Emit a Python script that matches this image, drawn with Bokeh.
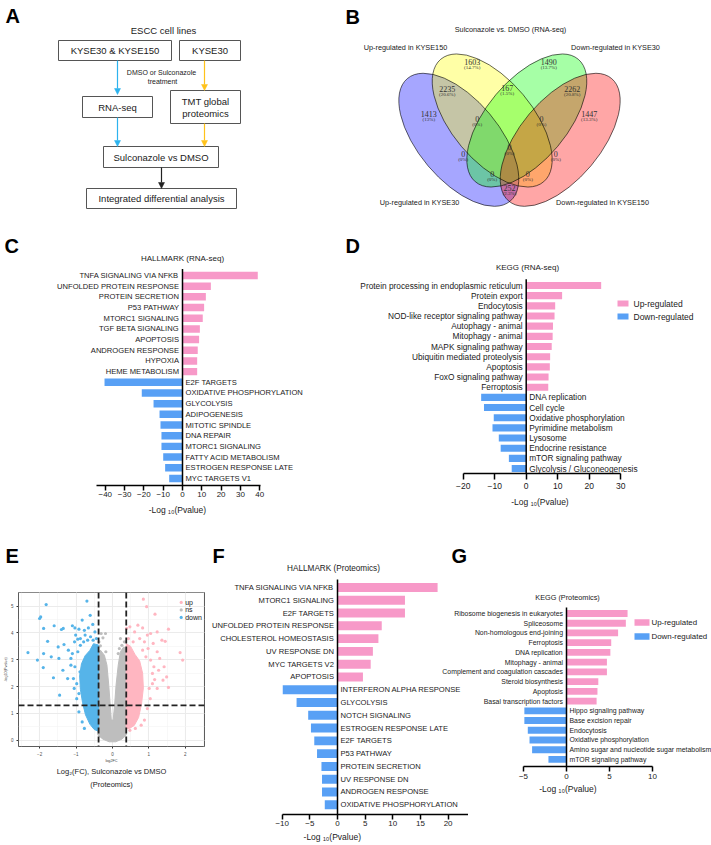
import math
from bokeh.plotting import figure
from bokeh.models import (Range1d, LinearAxis, FixedTicker, SingleIntervalTicker, Span,
                          Arrow, NormalHead)
from bokeh.layouts import row, column
from bokeh.embed import file_html
from bokeh.resources import INLINE
from bokeh.core.properties import value

SANS = "Liberation Sans"
SERIF = "Liberation Serif"
PINK = "#F799C8"
BLUE = "#58A0F5"
TXT = "#1A1A1A"
NB = "\u00a0"

# ---------------- Panel A : workflow ----------------
a_box_left = [58, 179, 82, 170, 103, 86]
a_box_right = [171, 240, 152, 240, 218, 236]
a_box_top = [40, 40, 96, 90, 146, 188]
a_box_bottom = [60, 60, 117, 123, 167, 208]
a_text = ["KYSE30 & KYSE150", "KYSE30", "RNA-seq", "TMT global", "proteomics",
          "Sulconazole vs DMSO", "Integrated differential analysis"]
a_text_x = [114.5, 209.5, 117, 205, 205, 160.5, 161]
a_text_y = [50, 50, 106.5, 101, 112.5, 156.5, 198]
a_note = ["ESCC cell lines", "DMSO or Sulconazole", "treatment"]
a_note_x = [163, 161, 162]
a_note_y = [30, 72, 81]
a_note_size = ["9.5px", "7px", "7px"]
a_arrow_x = [117, 117, 204, 204, 161]
a_arrow_y0 = [60, 117, 60, 123, 167]
a_arrow_y1 = [94, 146, 90, 146, 188]
a_arrow_color = ["#2DB3EE", "#2DB3EE", "#FFC21A", "#FFC21A", "#222222"]

# ---------------- Panel B : Venn ----------------
venn_sets = ["Up-regulated in KYSE30", "Up-regulated in KYSE150",
             "Down-regulated in KYSE30", "Down-regulated in KYSE150"]
venn_cx = [458.3, 491.7, 526.3, 559.7]
venn_cy = [139.3, 120.0, 120.0, 139.3]
venn_angle = [-50, -50, 50, 50]
venn_fill = ["#0000FF", "#FFFF00", "#00FF00", "#FF0000"]
venn_set_x = [419, 405, 615, 602]
venn_set_y = [202, 47, 47, 202]
venn_counts = ["1603", "1490", "2235", "167", "2262", "1413", "1447",
               "0", "0", "0", "0", "0", "0", "0", "252"]
venn_pcts = ["(14.7%)", "(13.7%)", "(20.6%)", "(1.5%)", "(20.8%)", "(13%)", "(13.3%)",
             "(0%)", "(0%)", "(0%)", "(0%)", "(0%)", "(0%)", "(0%)", "(2.3%)"]
venn_lx = [471.7, 548.3, 446.7, 506.7, 571.7, 428.3, 588.7,
           476.7, 541, 509, 462.7, 555.3, 491.7, 527.3, 509]
venn_ly = [61, 61, 88.3, 87.3, 88.3, 113.3, 113.3,
           118.3, 118.3, 146.7, 153.3, 153.3, 173.3, 173.3, 187.3]

# ---------------- Panel C : HALLMARK (RNA-seq) ----------------
c_up_labels = ["TNFA SIGNALING VIA NFKB", "UNFOLDED PROTEIN RESPONSE", "PROTEIN SECRETION",
               "P53 PATHWAY", "MTORC1 SIGNALING", "TGF BETA SIGNALING", "APOPTOSIS",
               "ANDROGEN RESPONSE", "HYPOXIA", "HEME METABOLISM"]
c_up_values = [39.0, 14.7, 12.1, 11.2, 10.5, 9.0, 8.6, 7.9, 7.6, 7.6]
c_down_labels = ["E2F TARGETS", "OXIDATIVE PHOSPHORYLATION", "GLYCOLYSIS", "ADIPOGENESIS",
                 "MITOTIC SPINDLE", "DNA REPAIR", "MTORC1 SIGNALING", "FATTY ACID METABOLISM",
                 "ESTROGEN RESPONSE LATE", "MYC TARGETS V1"]
c_down_values = [-40.4, -21.1, -15.0, -11.9, -11.4, -10.9, -10.9, -10.0, -9.0, -6.9]
c_ticks = [-40, -30, -20, -10, 0, 10, 20, 30, 40]

# ---------------- Panel D : KEGG (RNA-seq) ----------------
d_up_labels = ["Protein processing in endoplasmic reticulum", "Protein export", "Endocytosis",
               "NOD-like receptor signaling pathway", "Autophagy - animal", "Mitophagy - animal",
               "MAPK signaling pathway", "Ubiquitin mediated proteolysis", "Apoptosis",
               "FoxO signaling pathway", "Ferroptosis"]
d_up_values = [23.8, 11.4, 9.2, 9.0, 8.5, 8.4, 8.1, 7.6, 7.5, 7.1, 7.0]
d_down_labels = ["DNA replication", "Cell cycle", "Oxidative phosphorylation",
                 "Pyrimidine metabolism", "Lysosome", "Endocrine resistance",
                 "mTOR signaling pathway", "Glycolysis / Gluconeogenesis"]
d_down_values = [-14.3, -13.4, -10.3, -10.7, -8.7, -8.1, -5.5, -4.6]
d_ticks = [-20, -10, 0, 10, 20, 30]

# ---------------- Panel E : volcano (proteomics) ----------------
e_grey_patch_x = [-0.40, -0.33, -0.22, -0.15, -0.10, -0.06, -0.03, 0.02, 0.06, 0.10, 0.16,
                  0.22, 0.31, 0.38, 0.38, 0.26, 0.09, -0.09, -0.26, -0.40]
e_grey_patch_y = [3.23, 3.36, 3.17, 2.80, 2.05, 1.31, 0.75, 0.75, 1.31, 2.05, 2.80,
                  3.30, 3.48, 3.42, 0.19, 0.04, -0.06, -0.06, 0.04, 0.19]
e_blue_patch_x = [-0.38, -0.52, -0.62, -0.75, -0.85, -0.90, -0.88, -0.82, -0.74, -0.62, -0.50, -0.38]
e_blue_patch_y = [3.55, 3.60, 3.35, 3.15, 2.85, 2.40, 1.90, 1.40, 0.95, 0.60, 0.40, 0.33]
e_pink_patch_x = [0.38, 0.50, 0.62, 0.75, 0.83, 0.85, 0.80, 0.72, 0.60, 0.48, 0.38]
e_pink_patch_y = [3.60, 3.50, 3.20, 2.95, 2.50, 1.95, 1.35, 0.85, 0.55, 0.45, 0.42]
e_down_x = [-1.82, -0.70, -1.97, -2.00, -1.89, -1.60, -1.40, -1.35, -1.10, -1.03, -0.83, -0.61,
            -0.92, -0.77, -0.66, -0.54, -1.78, -1.49, -1.33, -1.21, -1.68, -1.89, -2.32, -2.06,
            -1.90, -1.47, -1.36, -1.62, -1.23, -1.45, -1.01, -0.95, -1.04, -0.88, -0.75, -0.60,
            -0.48, -0.53, -0.79, -1.10, -1.14, -1.07, -1.05, -0.98, -0.92, -0.83, -0.77, -0.89,
            -0.95, -0.88, -0.68, -0.44, -1.14, -1.03, -0.98, -0.92]
e_down_y = [5.06, 5.19, 4.60, 4.54, 4.17, 4.27, 4.13, 4.17, 4.27, 4.19, 4.48, 4.66,
            4.14, 4.10, 4.19, 4.32, 3.69, 3.48, 3.57, 3.36, 3.11, 3.23, 3.27, 2.99,
            2.71, 3.05, 2.61, 2.33, 2.30, 1.68, 3.92, 3.77, 3.67, 3.79, 3.92, 3.86,
            4.04, 3.73, 3.67, 3.23, 2.80, 2.30, 1.93, 1.55, 1.06, 0.68, 0.44, 2.55,
            3.30, 3.54, 3.73, 3.79, 3.05, 2.74, 2.11, 1.74]
e_up_x = [0.85, 0.94, 1.17, 1.54, 1.05, 1.23, 1.36, 1.45, 0.70, 0.83, 0.96, 1.86, 1.93, 1.30,
          1.49, 1.54, 1.39, 1.16, 1.10, 1.42, 0.39, 0.48, 0.61, 0.75, 0.88, 1.12, 0.98, 1.23,
          1.05, 1.14, 1.01, 1.04, 0.96, 0.88, 0.79, 0.63, 0.48, 1.23, 1.10, 1.27, 0.92, 0.83,
          0.57, 0.44]
e_up_y = [5.26, 4.98, 4.70, 4.14, 3.98, 4.04, 3.73, 3.69, 4.29, 4.19, 3.92, 3.27, 2.99, 3.05,
          2.36, 1.97, 2.24, 2.26, 2.49, 2.74, 4.17, 4.23, 4.04, 3.79, 3.67, 3.61, 3.42, 3.30,
          2.99, 2.74, 1.93, 1.55, 1.18, 0.75, 0.56, 0.44, 0.37, 1.93, 2.11, 2.61, 3.11, 3.36,
          3.67, 3.79]
e_ns_x = [-0.31, -0.19, -0.26, 0.22, 0.26, -0.37, -0.33, 0.19, 0.33, -0.18, 0.16]
e_ns_y = [3.98, 3.98, 3.82, 3.79, 3.54, 3.67, 3.52, 3.42, 3.67, 3.30, 3.23]
e_fc_cut = [-0.38, 0.38]
e_p_cut = 1.30
e_leg = ["up", "ns", "down"]
e_leg_col = ["#FFB6C1", "#BEBEBE", "#56B4E9"]
e_leg_y = [5.14, 4.86, 4.58]

# ---------------- Panel F : HALLMARK (Proteomics) ----------------
f_up_labels = ["TNFA SIGNALING VIA NFKB", "MTORC1 SIGNALING", "E2F TARGETS",
               "UNFOLDED PROTEIN RESPONSE", "CHOLESTEROL HOMEOSTASIS", "UV RESPONSE DN",
               "MYC TARGETS V2", "APOPTOSIS"]
f_up_values = [18.1, 12.2, 12.2, 8.0, 7.4, 6.4, 6.0, 4.6]
f_down_labels = ["INTERFERON ALPHA RESPONSE", "GLYCOLYSIS", "NOTCH SIGNALING",
                 "ESTROGEN RESPONSE LATE", "E2F TARGETS", "P53 PATHWAY", "PROTEIN SECRETION",
                 "UV RESPONSE DN", "ANDROGEN RESPONSE", "OXIDATIVE PHOSPHORYLATION"]
f_down_values = [-9.9, -7.4, -5.3, -4.8, -4.2, -3.7, -2.9, -2.8, -2.8, -2.3]
f_ticks = [-10, -5, 0, 5, 10, 15, 20]

# ---------------- Panel G : KEGG (Proteomics) ----------------
g_up_labels = ["Ribosome biogenesis in eukaryotes", "Spliceosome", "Non-homologous end-joining",
               "Ferroptosis", "DNA replication", "Mitophagy - animal",
               "Complement and coagulation cascades", "Steroid biosynthesis", "Apoptosis",
               "Basal transcription factors"]
g_up_values = [7.1, 6.9, 6.0, 5.2, 5.1, 4.7, 4.7, 3.7, 3.6, 3.5]
g_down_labels = ["Hippo signaling pathway", "Base excision repair", "Endocytosis",
                 "Oxidative phosphorylation", "Amino sugar and nucleotide sugar metabolism",
                 "mTOR signaling pathway"]
g_down_values = [-4.9, -4.9, -4.5, -4.3, -4.0, -2.1]
g_ticks = [-5, 0, 5, 10]

legend_labels = ["Up-regulated", "Down-regulated"]
XLABEL = "-Log \u2081\u2080(Pvalue)"


def no_align(p):
    try:
        p.frame_align = False
    except Exception:
        pass


def blank_fig(w, h, x0, y0):
    p = figure(width=w, height=h, x_range=Range1d(x0, x0 + w), y_range=Range1d(y0 + h, y0),
               output_backend="svg", toolbar_location=None, x_axis_location=None,
               y_axis_location=None, min_border=0)
    p.grid.visible = False
    p.outline_line_color = None
    p.background_fill_color = None
    p.border_fill_color = None
    no_align(p)
    return p


# ---- A ----
pa = blank_fig(342, 232, 0, 0)
pa.quad(left=a_box_left, right=a_box_right, top=a_box_top, bottom=a_box_bottom,
        fill_color="white", line_color="#555555", line_width=1)
for i in range(len(a_arrow_x)):
    c = a_arrow_color[i]
    pa.add_layout(Arrow(end=NormalHead(size=6, fill_color=c, line_color=c, line_width=0.5),
                        x_start=a_arrow_x[i], y_start=a_arrow_y0[i], x_end=a_arrow_x[i],
                        y_end=a_arrow_y1[i], line_color=c, line_width=1.2))
pa.text(x=a_text_x, y=a_text_y, text=a_text, text_font=value(SANS), text_font_size="9.5px",
        text_align="center", text_baseline="middle", text_color=TXT)
pa.text(x=a_note_x, y=a_note_y, text=a_note, text_font=value(SANS), text_font_size=a_note_size,
        text_align="center", text_baseline="middle", text_color=TXT)
pa.text(x=[5], y=[4], text=["A"], text_font=value(SANS), text_font_size="20px",
        text_font_style="bold", text_baseline="top", text_color="black")

# ---- B ----
pb = blank_fig(369, 232, 342, 0)
ang = [math.radians(a) for a in venn_angle]
pb.ellipse(x=venn_cx, y=venn_cy, width=160, height=80.6, angle=ang, fill_color=venn_fill,
           fill_alpha=0.35, line_color=None)
pb.ellipse(x=venn_cx, y=venn_cy, width=160, height=80.6, angle=ang, fill_color=None,
           line_color="black", line_width=0.6)
pb.text(x=venn_lx, y=venn_ly, text=venn_counts, text_font=value(SERIF), text_font_size="8px",
        text_align="center", text_baseline="middle", text_color="#333333")
pb.text(x=venn_lx, y=[v + 5.8 for v in venn_ly], text=venn_pcts, text_font=value(SERIF),
        text_font_size="5px", text_align="center", text_baseline="middle", text_color="#333333")
pb.text(x=venn_set_x, y=venn_set_y, text=venn_sets, text_font=value(SANS), text_font_size="7.3px",
        text_align="center", text_baseline="middle", text_color=TXT)
pb.text(x=[510], y=[29], text=["Sulconazole vs. DMSO (RNA-seq)"], text_font=value(SANS),
        text_font_size="7.3px", text_align="center", text_baseline="middle", text_color=TXT)
pb.text(x=[345], y=[5], text=["B"], text_font=value(SANS), text_font_size="20px",
        text_font_style="bold", text_baseline="top", text_color="black")


def bar_panel(cfg, up_lab, up_val, dn_lab, dn_val, ticks):
    W, H = cfg["w"], cfg["h"]
    z, ppu, r0, rh, axp = cfg["zero"], cfg["ppu"], cfg["row0"], cfg["rowh"], cfg["axis"]
    X = lambda fx: (fx - z) / ppu
    Y = lambda fy: (fy - r0) / rh
    p = figure(width=W, height=H, x_range=Range1d(X(0), X(W)), y_range=Range1d(Y(axp), Y(0)),
               output_backend="svg", toolbar_location=None, x_axis_location=None,
               y_axis_location=None, min_border_left=0, min_border_right=0, min_border_top=0,
               min_border_bottom=H - axp)
    p.grid.visible = False
    p.outline_line_color = None
    p.background_fill_color = None
    p.border_fill_color = None
    no_align(p)
    nu = len(up_lab)
    up_idx = list(range(nu))
    dn_idx = list(range(nu, nu + len(dn_lab)))
    p.hbar(y=up_idx, left=0, right=up_val, height=0.7, fill_color=PINK, line_color=None)
    p.hbar(y=dn_idx, left=dn_val, right=0, height=0.7, fill_color=BLUE, line_color=None)
    p.text(x=0, y=up_idx, text=up_lab, x_offset=-3.5, text_align="right", text_baseline="middle",
           text_font=value(SANS), text_font_size=cfg["lab_fs"], text_color=TXT)
    p.text(x=0, y=dn_idx, text=dn_lab, x_offset=3, text_align="left", text_baseline="middle",
           text_font=value(SANS), text_font_size=cfg["lab_fs"], text_color=TXT)
    p.segment(x0=0, y0=-0.62, x1=0, y1=Y(axp), line_color="black", line_width=1.5)
    lead, trail = cfg["label_pad"]
    ax = LinearAxis(ticker=FixedTicker(ticks=ticks), bounds=(X(cfg["ax_l"]), X(cfg["ax_r"])),
                    axis_line_width=1.5, axis_line_color="black", major_tick_line_width=1.5,
                    major_tick_line_color="black", major_tick_out=cfg["tick_out"], major_tick_in=0,
                    minor_tick_line_color=None, major_label_standoff=cfg["standoff"],
                    major_label_text_font=SANS, major_label_text_font_size=cfg["tick_fs"],
                    major_label_text_color=TXT,
                    axis_label=NB * lead + XLABEL + NB * trail,
                    axis_label_text_font=SANS, axis_label_text_font_size="8.5px",
                    axis_label_text_font_style="normal", axis_label_text_color=TXT,
                    axis_label_standoff=cfg["label_standoff"])
    p.add_layout(ax, "below")
    tx, ty = cfg["title_xy"]
    p.text(x=[X(tx)], y=[Y(ty)], text=[cfg["title"]], text_align="center", text_baseline="middle",
           text_font=value(SANS), text_font_size=cfg["title_fs"], text_color=TXT)
    lx, ly = cfg["letter_xy"]
    p.text(x=[X(lx)], y=[Y(ly)], text=[cfg["letter"]], text_align="left", text_baseline="top",
           text_font=value(SANS), text_font_size="20px", text_font_style="bold", text_color="black")
    if "legend" in cfg:
        sx0, sw, sh, cys, tx0, lfs = cfg["legend"]
        cols = [PINK, BLUE]
        p.quad(left=[X(sx0)] * 2, right=[X(sx0 + sw)] * 2,
               top=[Y(c - sh / 2) for c in cys], bottom=[Y(c + sh / 2) for c in cys],
               fill_color=cols, line_color=None)
        p.text(x=[X(tx0)] * 2, y=[Y(c) for c in cys], text=legend_labels, text_align="left",
               text_baseline="middle", text_font=value(SANS), text_font_size=lfs,
               text_color=TXT)
    return p


pc = bar_panel(dict(w=342, h=303, zero=182, ppu=1.93, row0=43, rowh=10.68, axis=253,
                    ax_l=96, ax_r=260, tick_out=5, standoff=1, lab_fs="7.6px", tick_fs="8px",
                    title="HALLMARK (RNA-seq)", title_xy=(182, 26), title_fs="8px",
                    letter="C", letter_xy=(4, 2), label_pad=(5, 0), label_standoff=5),
               c_up_labels, c_up_values, c_down_labels, c_down_values, c_ticks)

pd_ = bar_panel(dict(w=369, h=303, zero=183.7, ppu=3.15, row0=53, rowh=10.17, axis=241,
                     ax_l=120.7, ax_r=278.2, tick_out=6, standoff=3, lab_fs="8.3px",
                     tick_fs="8.5px", title="KEGG (RNA-seq)", title_xy=(185, 35), title_fs="8px",
                     letter="D", letter_xy=(3, 2), label_pad=(11, 0), label_standoff=5,
                     legend=(275, 11, 6, [71, 84], 291, "8.5px")),
                d_up_labels, d_up_values, d_down_labels, d_down_values, d_ticks)

pf = bar_panel(dict(w=263, h=310, zero=132, ppu=5.53, row0=52, rowh=12.78, axis=279,
                    ax_l=76.7, ax_r=297.9, tick_out=5, standoff=1, lab_fs="7.6px", tick_fs="8px",
                    title="HALLMARK (Proteomics)", title_xy=(128, 33), title_fs="8.2px",
                    letter="F", letter_xy=(7, 9), label_pad=(0, 4), label_standoff=3),
               f_up_labels, f_up_values, f_down_labels, f_down_values, f_ticks)

pg = bar_panel(dict(w=273, h=310, zero=128, ppu=8.6, row0=78, rowh=9.73, axis=231,
                    ax_l=85, ax_r=214, tick_out=5, standoff=2, lab_fs="6.9px", tick_fs="8px",
                    title="KEGG (Proteomics)", title_xy=(129, 62), title_fs="7.3px",
                    letter="G", letter_xy=(13, 9), label_pad=(0, 6), label_standoff=2,
                    legend=(196, 15, 6.5, [87, 101], 213, "7.9px")),
               g_up_labels, g_up_values, g_down_labels, g_down_values, g_ticks)

# ---- E ----
pe_top = blank_fig(205, 57, 0, 535)
pe_top.text(x=[5], y=[544], text=["E"], text_font=value(SANS), text_font_size="20px",
            text_font_style="bold", text_baseline="top", text_color="black")

pe = figure(width=205, height=253, x_range=Range1d(-2.58, 2.53), y_range=Range1d(-0.235, 5.51),
            output_backend="svg", toolbar_location=None, min_border_left=10, min_border_right=1,
            min_border_top=0, min_border_bottom=99)
no_align(pe)
pe.border_fill_color = None
pe.background_fill_color = "white"
pe.outline_line_color = "#333333"
pe.outline_line_width = 0.8
for axis, lab in ((pe.xaxis, "log2FC"), (pe.yaxis, "-log10(Pvalue)")):
    axis.ticker = SingleIntervalTicker(interval=1, num_minor_ticks=2)
    axis.axis_line_color = None
    axis.major_tick_line_color = "#333333"
    axis.major_tick_out = 2
    axis.major_tick_in = 0
    axis.minor_tick_line_color = None
    axis.major_label_text_font_size = "4.5px"
    axis.major_label_text_color = "#4D4D4D"
    axis.major_label_text_font = SANS
    axis.major_label_standoff = 1
    axis.axis_label = lab
    axis.axis_label_text_font_size = "3.8px"
    axis.axis_label_text_font_style = "normal"
    axis.axis_label_text_font = SANS
    axis.axis_label_standoff = 0
for cap, st in (("Log\u2082(FC), Sulconazole vs DMSO", 1), ("(Proteomics)", 1)):
    pe.add_layout(LinearAxis(ticker=FixedTicker(ticks=[]), axis_line_color=None,
                             major_tick_line_color=None, minor_tick_line_color=None,
                             axis_label=cap, axis_label_text_font=SANS,
                             axis_label_text_font_size="7.5px", axis_label_text_font_style="normal",
                             axis_label_text_color=TXT, axis_label_standoff=st), "below")
pe.xgrid.ticker = SingleIntervalTicker(interval=1, num_minor_ticks=2)
pe.ygrid.ticker = SingleIntervalTicker(interval=1, num_minor_ticks=2)
for g in (pe.xgrid, pe.ygrid):
    g.grid_line_color = "#EBEBEB"
    g.grid_line_width = 1.1
    g.minor_grid_line_color = "#F3F3F3"
    g.minor_grid_line_width = 0.6
pe.patch(e_grey_patch_x, e_grey_patch_y, fill_color="#BEBEBE", line_color="#BEBEBE", line_width=1)
pe.patch(e_blue_patch_x, e_blue_patch_y, fill_color="#56B4E9", line_color="#56B4E9", line_width=1)
pe.patch(e_pink_patch_x, e_pink_patch_y, fill_color="#FFB6C1", line_color="#FFB6C1", line_width=1)
pe.scatter(e_ns_x, e_ns_y, size=3.2, fill_color="#BEBEBE", line_color=None)
pe.scatter(e_down_x, e_down_y, size=3.2, fill_color="#56B4E9", line_color=None)
pe.scatter(e_up_x, e_up_y, size=3.2, fill_color="#FFB6C1", line_color=None)
for xc in e_fc_cut:
    pe.add_layout(Span(location=xc, dimension="height", line_color="#222222", line_width=1.8,
                       line_dash="6 3"))
pe.add_layout(Span(location=e_p_cut, dimension="width", line_color="#222222", line_width=1.8,
                   line_dash="6 3"))
pe.scatter([1.89] * 3, e_leg_y, size=3.2, fill_color=e_leg_col, line_color=None)
pe.text(x=[1.89] * 3, y=e_leg_y, text=e_leg, x_offset=4, text_align="left",
        text_baseline="middle", text_font=value(SANS), text_font_size="7px", text_color=TXT)

pg.margin = (0, 0, 0, -30)
layout = column(row(pa, pb), row(pc, pd_), row(column(pe_top, pe), pf, pg))
try:
    from bokeh.models import GlobalInlineStyleSheet
    layout.stylesheets = [GlobalInlineStyleSheet(css="html, body { margin: 0 !important; padding: 0 !important; }")]
except Exception:
    pass

open("out.html", "w").write(file_html(layout, INLINE))
